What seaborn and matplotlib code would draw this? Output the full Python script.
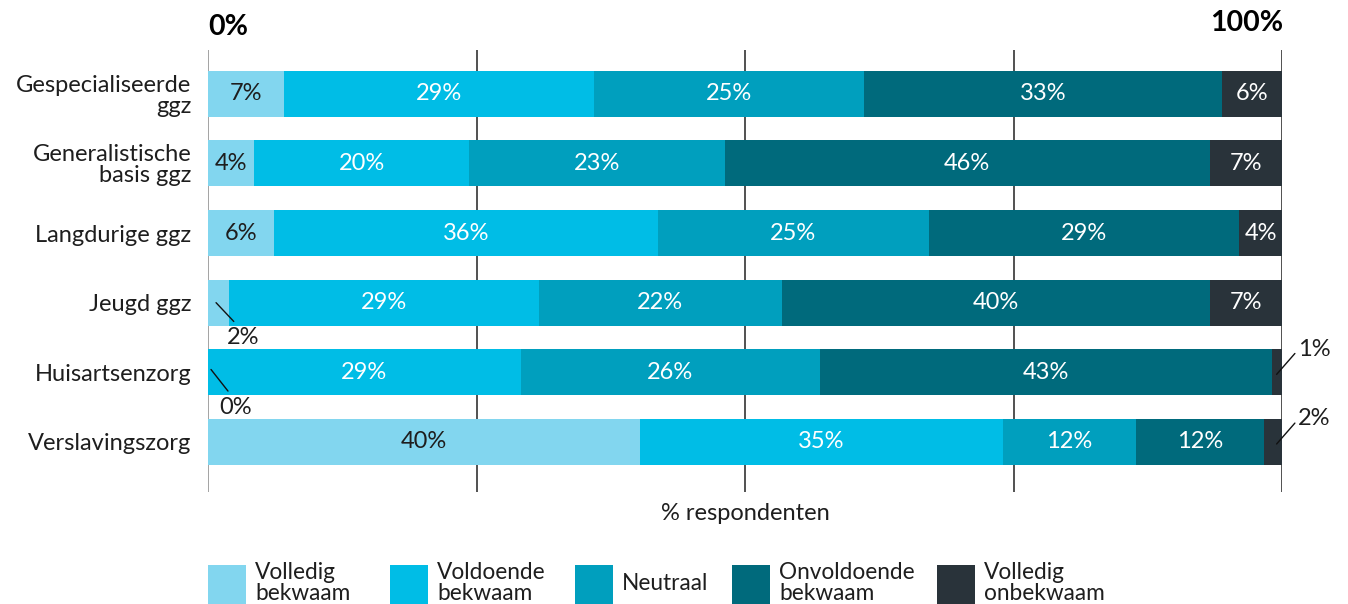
import matplotlib
matplotlib.use("Agg")
import matplotlib.pyplot as plt
import matplotlib.patches as mpatches
import seaborn as sns
import numpy as np
import pandas as pd

categories = ["Gespecialiseerde\nggz", "Generalistische\nbasis ggz", "Langdurige ggz",
              "Jeugd ggz", "Huisartsenzorg", "Verslavingszorg"]
series = ["Volledig\nbekwaam", "Voldoende\nbekwaam", "Neutraal", "Onvoldoende\nbekwaam", "Volledig\nonbekwaam"]
volledig_bekwaam = [7.1, 4.3, 6.1, 2.0, 0.0, 40.2]
voldoende_bekwaam = [28.8, 20.0, 35.8, 28.8, 29.1, 33.8]
neutraal = [25.2, 23.8, 25.2, 22.6, 27.9, 12.4]
onvoldoende_bekwaam = [33.3, 45.2, 28.9, 39.9, 42.1, 11.9]
volledig_onbekwaam = [5.6, 6.7, 4.1, 6.7, 0.9, 1.7]
value_labels = [
    ["7%", "4%", "6%", "2%", "0%", "40%"],
    ["29%", "20%", "36%", "29%", "29%", "35%"],
    ["25%", "23%", "25%", "22%", "26%", "12%"],
    ["33%", "46%", "29%", "40%", "43%", "12%"],
    ["6%", "7%", "4%", "7%", "1%", "2%"],
]
colors = ["#82d6ef", "#00bde6", "#009fbe", "#006a7c", "#29333a"]
text_colors = ["#1e1e1e", "white", "white", "white", "white"]

sns.set_theme(style="white")
plt.rcParams["font.family"] = ["Lato", "DejaVu Sans"]

vals = np.array([volledig_bekwaam, voldoende_bekwaam, neutraal, onvoldoende_bekwaam, volledig_onbekwaam])
cum = np.cumsum(vals, axis=0)

W, H = 1348, 604
fig = plt.figure(figsize=(W / 100, H / 100), dpi=100)
ax = fig.add_axes([208 / W, 1 - 492 / H, 1074 / W, 442 / H])

# gridlines
for g in [0, 25, 50, 75, 100]:
    ax.axvline(g, color="#8a8a8a" if g == 0 else "#222222", lw=1.1, zorder=0)

# stacked bars (draw cumulative from right to left)
for i in range(len(series) - 1, -1, -1):
    df = pd.DataFrame({"cat": categories, "val": cum[i]})
    sns.barplot(data=df, y="cat", x="val", order=categories, color=colors[i],
                orient="h", width=0.66, ax=ax, saturation=1, zorder=2, linewidth=0)

fs = 17
left = np.vstack([np.zeros(len(categories)), cum[:-1]])
for i in range(len(series)):
    for j in range(len(categories)):
        v = vals[i, j]
        if v >= 3:
            ax.text(left[i, j] + v / 2, j, value_labels[i][j], ha="center", va="center",
                    color=text_colors[i], fontsize=fs, zorder=3)
        elif i == 0:
            # small left segment: leader line down-right
            x0, y0 = (0.75, j) if v > 0 else (0.28, j - 0.04)
            x1 = 2.4 if v > 0 else 1.86
            ax.plot([x0, x1], [y0, j + 0.27], color="#111111", lw=1, zorder=3, clip_on=False)
            ax.text(3.3 if v > 0 else 2.6, j + 0.5, value_labels[i][j], ha="center", va="center",
                    color="#1e1e1e", fontsize=fs, zorder=3, clip_on=False)
        else:
            # small right segment: leader line up-right
            ax.plot([99.5, 101.2], [j + 0.03, j - 0.27], color="#111111", lw=1, zorder=3,
                    clip_on=False)
            ax.text(101.5, j - 0.33, value_labels[i][j], ha="left", va="center",
                    color="#1e1e1e", fontsize=fs, zorder=3, clip_on=False)

ax.set_xlim(0, 100)
ax.set_ylim(5.72, -0.63)
for s in ax.spines.values():
    s.set_visible(False)
ax.set_xticks([])
ax.set_ylabel("")
ax.set_xlabel("% respondenten", fontsize=fs, color="#1e1e1e", labelpad=8)
ax.tick_params(axis="y", length=0, pad=12, labelsize=fs, labelcolor="#1e1e1e")
for lab in ax.get_yticklabels():
    lab.set_linespacing(1.0)

fig.text(208 / W, 1 - 27 / H, "0%", ha="left", va="center", fontsize=20.5, fontweight="bold",
         color="black")
fig.text(1283 / W, 1 - 23 / H, "100%", ha="right", va="center", fontsize=20.5, fontweight="bold",
         color="black")

# legend: colour squares with two-line labels
leg_x = [208, 390, 575, 732, 937]
for x, c, s in zip(leg_x, colors, series):
    fig.add_artist(mpatches.Rectangle((x / W, 1 - 612 / H), 38 / W, 47 / H,
                                      transform=fig.transFigure, facecolor=c, edgecolor="none"))
    fig.text((x + 47) / W, 1 - 583 / H, s, ha="left", va="center", fontsize=16.3,
             color="#1e1e1e", linespacing=0.95)

fig.savefig("out.png", dpi=100)
